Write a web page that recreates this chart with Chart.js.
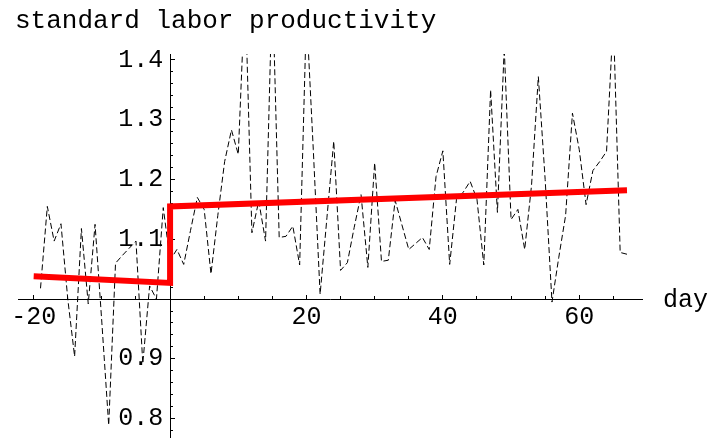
<!DOCTYPE html>
<html>
<head>
<meta charset="utf-8">
<script src="https://cdn.jsdelivr.net/npm/chart.js@4.4.1/dist/chart.umd.min.js"></script>
<style>
  html, body { margin: 0; padding: 0; background: #fff; }
  #wrap { width: 716px; height: 439px; }
</style>
</head>
<body>
<div id="wrap"><canvas id="chart" width="716" height="439"></canvas></div>
<script>
// daily observations (dashed line)
const days = [-19, -18, -17, -16, -15, -14, -13, -12, -11, -10,
    -9, -8, -7, -6, -5, -4, -3, -2, -1, 0,
    1, 2, 3, 4, 5, 6, 7, 8, 9, 10,
    11, 12, 13, 14, 15, 16, 17, 18, 19, 20,
    21, 22, 23, 24, 25, 26, 27, 28, 29, 30,
    31, 32, 33, 34, 35, 36, 37, 38, 39, 40,
    41, 42, 43, 44, 45, 46, 47, 48, 49, 50,
    51, 52, 53, 54, 55, 56, 57, 58, 59, 60,
    61, 62, 63, 64, 65, 66, 67];
const productivity = [1.018, 1.155, 1.097, 1.126, 1.000, 0.904, 1.118, 0.992, 1.125, 0.960,
    0.789, 1.060, 1.073, 1.085, 1.097, 0.892, 1.022, 1.000, 1.153, 1.065,
    1.083, 1.058, 1.115, 1.170, 1.150, 1.042, 1.140, 1.230, 1.283, 1.242,
    1.520, 1.111, 1.164, 1.097, 1.530, 1.103, 1.105, 1.122, 1.057, 1.480,
    1.250, 1.008, 1.136, 1.264, 1.048, 1.061, 1.120, 1.175, 1.053, 1.228,
    1.063, 1.065, 1.165, 1.124, 1.083, 1.093, 1.103, 1.083, 1.205, 1.248,
    1.058, 1.167, 1.179, 1.197, 1.167, 1.057, 1.350, 1.145, 1.420, 1.133,
    1.150, 1.083, 1.190, 1.372, 1.200, 0.995, 1.070, 1.140, 1.311, 1.250,
    1.158, 1.215, 1.230, 1.247, 1.470, 1.078, 1.075];

// fitted trend with a jump at day 0 (red line)
const fitDays = [-20, 0, 0, 67];
const fitValues = [1.038, 1.027, 1.155, 1.182];

const titleText = 'standard labor productivity';
const xAxisLabel = 'day';

const xMin = -22.3, xMax = 69.2;
const yMin = 0.768, yMax = 1.41;

const monoFont = { family: '"Liberation Mono", "Courier New", monospace', size: 25 };
// tiny lineHeight so the label scale does not eat into the plot height
const yLabelFont = { family: '"Liberation Mono", "Courier New", monospace', size: 25, lineHeight: 0.1 };

const textPlugin = {
    id: 'textLabels',
    afterDraw(chart) {
        const ctx = chart.ctx;
        const area = chart.chartArea;
        const yAxis = chart.scales.y;
        ctx.save();
        ctx.fillStyle = '#000';
        ctx.font = '26px "Liberation Mono", "Courier New", monospace';
        ctx.textBaseline = 'alphabetic';
        ctx.textAlign = 'left';
        ctx.fillText(titleText, 15, 28);
        ctx.font = '25px "Liberation Mono", "Courier New", monospace';
        ctx.fillText(xAxisLabel, area.right + 21, yAxis.getPixelForValue(1) + 8);
        ctx.restore();
    }
};

function toPoints(xs, ys) {
    return xs.map((x, i) => ({ x: x, y: ys[i] }));
}

const tickColor = '#000';

new Chart(document.getElementById('chart'), {
    type: 'scatter',
    data: {
        datasets: [
            {
                label: 'fit',
                data: toPoints(fitDays, fitValues),
                showLine: true,
                borderColor: '#ff0000',
                borderWidth: 6,
                borderJoinStyle: 'miter',
                borderCapStyle: 'butt',
                pointRadius: 0,
                clip: 0,
            },
            {
                label: 'productivity',
                data: toPoints(days, productivity),
                showLine: true,
                borderColor: '#000',
                borderWidth: 1,
                borderDash: [6, 3],
                pointRadius: 0,
                clip: 0,
            }
        ]
    },
    options: {
        responsive: false,
        animation: false,
        devicePixelRatio: 1,
        layout: { padding: { left: 18, right: 74, top: 54, bottom: 1 } },
        plugins: {
            legend: { display: false },
            title: { display: false },
            tooltip: { enabled: false }
        },
        scales: {
            x: {
                type: 'linear',
                min: xMin, max: xMax,
                position: { y: 1 },
                border: { display: true, color: '#000', width: 1 },
                grid: { drawOnChartArea: false, tickLength: -5, color: tickColor },
                ticks: {
                    stepSize: 20, includeBounds: false, autoSkip: false, maxRotation: 0,
                    color: '#000', font: monoFont, padding: 8,
                    callback: (v) => v === 0 ? '' : String(v)
                }
            },
            xMinor: {
                type: 'linear',
                min: xMin, max: xMax,
                position: { y: 1 },
                border: { display: false },
                grid: { drawOnChartArea: false, tickLength: -3, color: tickColor },
                ticks: { stepSize: 5, includeBounds: false, autoSkip: false, display: false }
            },
            y: {
                type: 'linear',
                min: yMin, max: yMax,
                position: { x: 0 },
                border: { display: true, color: '#000', width: 1 },
                grid: { drawOnChartArea: false, tickLength: -5, color: tickColor },
                ticks: { stepSize: 0.1, includeBounds: false, autoSkip: false, display: false }
            },
            yMinor: {
                type: 'linear',
                min: yMin, max: yMax,
                position: { x: 0 },
                border: { display: false },
                grid: { drawOnChartArea: false, tickLength: -3, color: tickColor },
                ticks: { stepSize: 0.02, includeBounds: false, autoSkip: false, display: false }
            },
            yLabels: {
                type: 'linear',
                min: yMin, max: yMax,
                position: { x: -1 },
                border: { display: false },
                grid: { display: false, drawTicks: false },
                ticks: {
                    stepSize: 0.1, includeBounds: false, autoSkip: false, padding: 0,
                    color: '#000', font: yLabelFont,
                    callback: (v) => Math.abs(v - 1) < 1e-9 ? '' : Number(v).toFixed(1)
                }
            }
        }
    },
    plugins: [textPlugin]
});
</script>
</body>
</html>
